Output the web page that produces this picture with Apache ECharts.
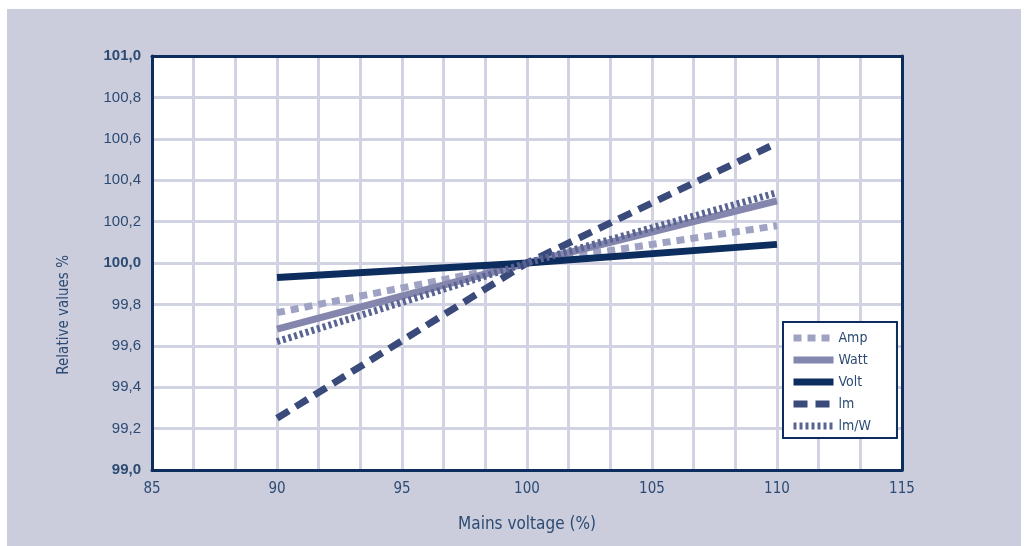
<!DOCTYPE html>
<html><head><meta charset="utf-8">
<script src="https://cdn.jsdelivr.net/npm/echarts@6/dist/echarts.min.js"></script>
<style>
html,body{margin:0;padding:0;background:#fff;width:1028px;height:546px;overflow:hidden}
#panel{position:absolute;left:7px;top:9px;width:1014px;height:537px;background:#cbcddc}
#c{position:absolute;left:0;top:0;width:1028px;height:546px}
</style></head><body>
<div id="panel"></div><div id="c"></div>
<script>
const voltage = [90, 100, 110];
const amp = [99.76, 100.0, 100.18];
const watt = [99.68, 100.0, 100.30];
const volt = [99.93, 100.0, 100.09];
const lm = [99.25, 100.0, 100.58];
const lmW = [99.62, 100.0, 100.34];
const seriesNames = ['Amp', 'Watt', 'Volt', 'lm', 'lm/W'];
const xTitle = 'Mains voltage (%)';
const yTitle = 'Relative values %';

const txt = '#2c4a72';
const navy = '#0d2d5e';
const grid = '#d2d3e2';
const font = "'DejaVu Sans Condensed', 'Liberation Sans', sans-serif";
const pairs = d => voltage.map((v, i) => [v, d[i]]);
const chart = echarts.init(document.getElementById('c'), null, {renderer: 'canvas'});
function mk(name, data, color, width, type) {
  return {name, type: 'line', data: pairs(data), symbol: 'none', showSymbol: false,
    lineStyle: {color, width, type, cap: 'butt'}, itemStyle: {color}, z: 3};
}
const frame = {show: true, lineStyle: {color: navy, width: 3}};
chart.setOption({
  animation: false,
  backgroundColor: 'transparent',
  grid: {left: 152, top: 56, width: 750, height: 414, show: true, backgroundColor: '#fff',
    borderWidth: 0, containLabel: false},
  xAxis: [{type: 'value', min: 85, max: 115, interval: 5,
    name: xTitle, nameLocation: 'middle', nameGap: 46,
    nameTextStyle: {color: txt, fontSize: 17, fontFamily: font},
    axisLine: {show: true, onZero: false, lineStyle: {color: navy, width: 3}}, axisTick: {show: false},
    axisLabel: {color: txt, fontSize: 15, margin: 12, fontFamily: font},
    splitLine: {show: true, lineStyle: {color: grid, width: 3}},
    minorTick: {show: false, splitNumber: 3},
    minorSplitLine: {show: true, lineStyle: {color: grid, width: 3}}},
    {type: 'value', position: 'top', min: 85, max: 115, axisLine: frame,
     axisTick: {show: false}, axisLabel: {show: false}, splitLine: {show: false}}],
  yAxis: [{type: 'value', min: 99, max: 101, interval: 0.2,
    axisLine: {show: true, onZero: false, lineStyle: {color: navy, width: 3}}, axisTick: {show: false},
    axisLabel: {color: txt, fontSize: 15, margin: 11, fontFamily: 'Liberation Sans',
      formatter: v => {
        const s = v.toFixed(1).replace('.', ',');
        return (Math.abs(v - Math.round(v)) < 1e-6) ? '{b|' + s + '}' : s;
      },
      rich: {b: {fontWeight: 'bold', color: txt, fontSize: 15, fontFamily: 'Liberation Sans'}}},
    splitLine: {show: true, lineStyle: {color: grid, width: 3}}},
    {type: 'value', position: 'right', min: 99, max: 101, axisLine: frame,
     axisTick: {show: false}, axisLabel: {show: false}, splitLine: {show: false}}],
  legend: {orient: 'vertical', left: 783, top: 322,
    backgroundColor: '#fff', borderColor: navy, borderWidth: 2,
    padding: [9, 26, 5, 7], itemGap: 8, itemWidth: 40, itemHeight: 14,
    itemStyle: {opacity: 0}, lineStyle: {width: 7},
    textStyle: {color: txt, fontSize: 14, fontFamily: font},
    data: seriesNames},
  graphic: [{type: 'text', left: 57, top: 255, rotation: Math.PI / 2,
    style: {text: yTitle, fill: txt, fontSize: 15, fontFamily: font}}],
  series: [
    mk(seriesNames[0], amp, '#a0a2c4', 7, [8, 6]),
    mk(seriesNames[1], watt, '#8486ad', 7, 'solid'),
    mk(seriesNames[2], volt, navy, 7, 'solid'),
    mk(seriesNames[3], lm, '#3a4a7b', 7, [14, 8]),
    mk(seriesNames[4], lmW, '#5a6493', 7, [3, 3])
  ]
});
</script></body></html>
